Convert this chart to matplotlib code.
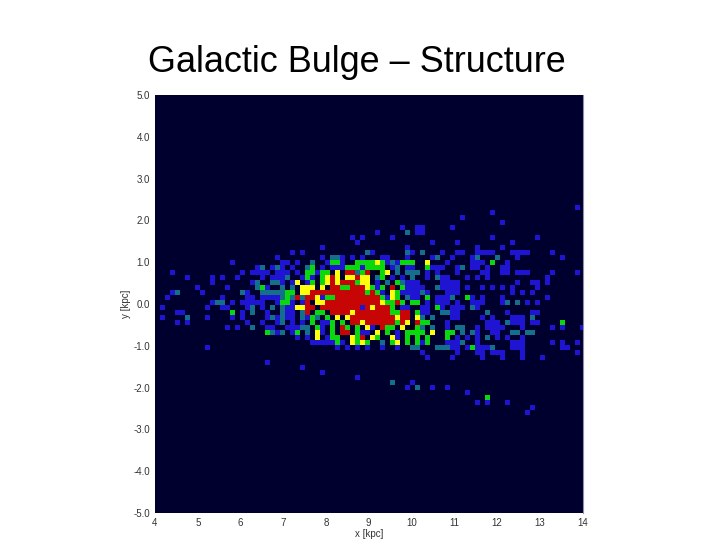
import matplotlib
matplotlib.use('Agg')
import matplotlib.pyplot as plt
from matplotlib.colors import ListedColormap, BoundaryNorm
import numpy as np

plt.rcParams['font.family'] = ['Liberation Sans', 'DejaVu Sans']

title = 'Galactic Bulge \u2013 Structure'
x_ticks = [4, 5, 6, 7, 8, 9, 10, 11, 12, 13, 14]
y_ticks = [-5.0, -4.0, -3.0, -2.0, -1.0, 0.0, 1.0, 2.0, 3.0, 4.0, 5.0]

# 0 empty, 1 blue, 2 teal, 3 green, 4 yellow, 5 red, 6 black
# map rows, top to bottom, ten columns per group
first_row = 22
cell_rows = [
    '.......... .......... .......... .......... .......... .......... .......... .......... ....1.',
    '.......... .......... .......... .......... .......... .......... .......1.. .......... ......',
    '.......... .......... .......... .......... .......... .......... .1........ .......... ......',
    '.......... .......... .......... .......... .......... .......... .........1 .......... ......',
    '.......... .......... .......... .......... .........1 ..11.....1 .......... .......... ......',
    '.......... .......... .......... .......... ....1..... 2.11...... .......... .......... ......',
    '.......... .......... .......... .........1 .1.....1.. .......... .......1.. ......1... ......',
    '.......... .......... .......... .......... 1......... .....1.... 1......... .1........ ......',
    '.......... .......... .......... ...1...... .......... 1......... ....1....1 .......... ......',
    '.......... .......... .......1.1 .......... ..21...... 21.2...1.. 11..1111.. .1111....1 ......',
    '.......... .......... ....1..... ...1.221.1 .1...11... 1....12..1 ...12...2. ..1....... .1....',
    '.......... .....1.... .....11.1. .2..1331.. 3333431213 33..4...1. ...111.3.. 1......... ......',
    '.......... .......... 12.121.1.. 23.1.11133 313333.12. 11..3111.. 12.11.1..1 1......... ......',
    '...1...... .......1.1 111.111.1. 33133.4.55 235.634.2. 222.1.1... 1....11..1 1.111....1 ....1.',
    '......1... .1.1..1... .1.1112..1 31.3454.44 544.23.1.1 .2..1.211. ..1.1.1... ........1. ......',
    '.......... .1.......1 2..221.14. 13.3454555 344.1.2.32 111....111 1......... ..1..11.1. ......',
    '........1. ....1..... 231..2.2.4 44.4.55335 554313.5.3 1111..2111 1.1..1.1.1 .1....1... ......',
    '...12....1 .......21. .2222233.4 4555555555 553531.431 11121...11 1......... .1.1.1.... ......',
    '..1....... ...1....11 .111123252 5541335555 555553143. 211.3.1112 ..31.1...1 ........1. ......',
    '.......... .122.1.111 11..1331.1 5.44555555 5555543353 .33.1.111. 1..111...1 2.2.1.1... ......',
    '.1........ 1..11...12 .1.2.21144 55.5555555 51545553.1 1..11.31.1 11.21..... .......... ......',
    '....11.... .....3.1.2 ..1..211.2 5.33.55554 5555555335 5.311..221 1.....2... 1....11... ......',
    '.1....2... 1....1.1.. ..121211.2 132.3.4.45 5555555545 5.42.2...1 1....1.1.. .111.2.... ......',
    '....1.1... ........1. .1..12.1.1 .3.113.3.5 5455555535 4.533...1. ......111. 2111.11... .3....',
    '.......... ....1.1..2 ..11..1112 2.31.3.53. 3.41.533.4 .632.2..1. 22..1.1111 ...1.....1 .1...1',
    '.......... .......... ..3212.13. 2.41.3.55. 311.4.3.1. 3333.4..33 .2.21..11. .22.22.... ......',
    '.......... .......... ........1. 1.4.133..4 35.43..41. 3.3.3...3. 1.1.1.2.1. 1..1...... ......',
    '.......... .......... .......... .1111131.4 343..2.34. 3.313...11 12..1..... .111.....1 .1..1.',
    '.......... 1......... .......... ......1.1. 1.1..1..1. .22...2221 1.131112.. .111...... .11...',
    '.......... .......... .......... .......... .......... ...1...... 1...11.111 ...1...... ....1.',
    '.......... .......... .......... .......... .......... ....1....1 .....1...1 ...1...1.. ......',
    '.......... .......... ..1....... .......... .......... .......... .......... .......... ......',
    '.......... .......... .........1 .......... .......... .......... .......... .......... ......',
    '.......... .......... .......... ...1...... .......... .......... .......... .......... ......',
    '.......... .......... .......... .......... 1......... .......... .......... .......... ......',
    '.......... .......... .......... .......... .......2.. .1........ .......... .......... ......',
    '.......... .......... .......... .......... .......... 1.2..1..1. .......... .......... ......',
    '.......... .......... .......... .......... .......... .......... ..1....... .......... ......',
    '.......... .......... .......... .......... .......... .......... ......3... .......... ......',
    '.......... .......... .......... .......... .......... .......... ....1.1... 1......... ......',
    '.......... .......... .......... .......... .......... .......... .......... .....1.... ......',
    '.......... .......... .......... .......... .......... .......... .......... ....1..... ......',
]

n_cols = 86
n_rows = 84
grid = np.zeros((n_rows, n_cols))
for i, row in enumerate(cell_rows):
    cells = row.replace(' ', '').replace('.', '0')
    grid[first_row + i, :] = [int(c) for c in cells]

colors = ['#00002e', '#1e14d2', '#14708a', '#0ad80f', '#ffff0a', '#c80505', '#000000']
cmap = ListedColormap(colors)
norm = BoundaryNorm(np.arange(-0.5, 7.5), cmap.N)

fig = plt.figure(figsize=(7.2, 5.4), dpi=100)
ax = fig.add_axes([155 / 720, 1 - 513 / 540, 427.5 / 720, 418 / 540])

# cells are 5 px on the axes, last ones get clipped by the limits
x_right = 4 + n_cols * 10 / 85.5
y_bottom = 5 - n_rows * 10 / 83.6
ax.imshow(grid, cmap=cmap, norm=norm, extent=(4, x_right, y_bottom, 5),
          aspect='auto', interpolation='nearest')
ax.set_xlim(4, 14)
ax.set_ylim(-5, 5)

ax.set_xticks(x_ticks)
ax.set_yticks(y_ticks)
ax.set_yticklabels(['%.1f' % v for v in y_ticks])
ax.tick_params(length=0, labelsize=7, labelcolor='#333333', pad=3.5)
ax.set_xlabel('x [kpc]', fontsize=7, color='#333333', labelpad=1)
ax.set_ylabel('y [kpc]', fontsize=7, color='#333333', labelpad=1.5)
for side in ['top', 'left', 'bottom']:
    ax.spines[side].set_visible(False)
ax.spines['right'].set_color('#9090a8')
ax.spines['right'].set_linewidth(0.8)

fig.text(357 / 720, 1 - 72 / 540, title, fontsize=25.9, color='black',
         ha='center', va='baseline')

fig.savefig('out.png', dpi=100)
